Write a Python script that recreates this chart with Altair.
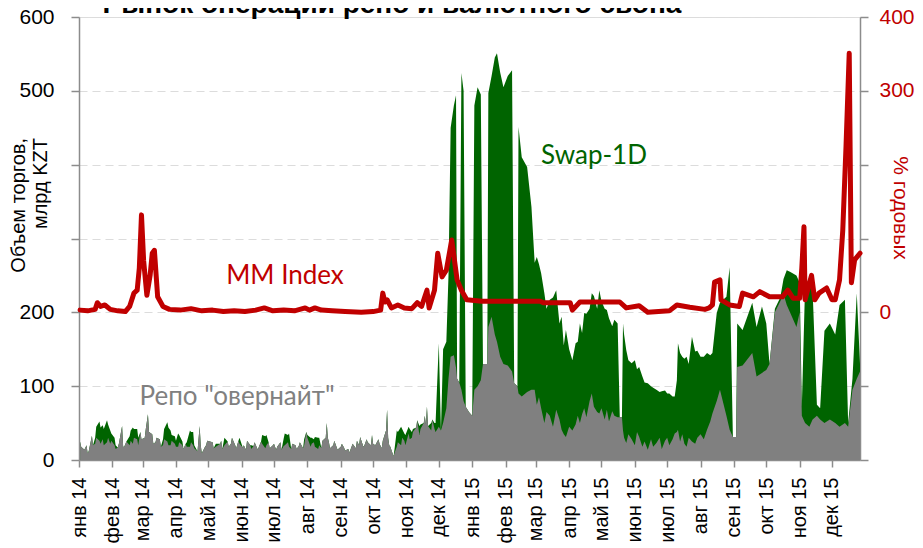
import altair as alt
import pandas as pd

# ---------------- data ----------------
vol_dates = [
    # 2014
    "2014-01-02","2014-01-03","2014-01-06","2014-01-08","2014-01-09","2014-01-10","2014-01-13","2014-01-14","2014-01-16",
    "2014-01-17","2014-01-20","2014-01-21","2014-01-23","2014-01-24","2014-01-27","2014-01-28","2014-01-30","2014-01-31",
    "2014-02-03","2014-02-04","2014-02-06","2014-02-07","2014-02-10","2014-02-11","2014-02-12","2014-02-14","2014-02-17",
    "2014-02-18","2014-02-20","2014-02-21","2014-02-24","2014-02-25","2014-02-27","2014-02-28",
    "2014-03-03","2014-03-04","2014-03-06","2014-03-07","2014-03-10","2014-03-11","2014-03-13","2014-03-14","2014-03-17",
    "2014-03-18","2014-03-20","2014-03-21","2014-03-24","2014-03-25","2014-03-27","2014-03-28","2014-03-31",
    "2014-04-01","2014-04-03","2014-04-04","2014-04-07","2014-04-08","2014-04-10","2014-04-11","2014-04-14","2014-04-15",
    "2014-04-17","2014-04-18","2014-04-21","2014-04-23","2014-04-24","2014-04-25","2014-04-28","2014-04-29","2014-04-30",
    "2014-05-05","2014-05-06","2014-05-08","2014-05-12","2014-05-13","2014-05-14","2014-05-16","2014-05-19","2014-05-20",
    "2014-05-22","2014-05-23","2014-05-26","2014-05-27","2014-05-29","2014-05-30",
    "2014-06-02","2014-06-03","2014-06-05","2014-06-06","2014-06-09","2014-06-10","2014-06-12","2014-06-13","2014-06-16",
    "2014-06-17","2014-06-19","2014-06-20","2014-06-23","2014-06-24","2014-06-26","2014-06-27","2014-06-30",
    "2014-07-01","2014-07-03","2014-07-04","2014-07-07","2014-07-08","2014-07-10","2014-07-11","2014-07-14","2014-07-15",
    "2014-07-17","2014-07-18","2014-07-21","2014-07-22","2014-07-24","2014-07-25","2014-07-28","2014-07-29","2014-07-31",
    "2014-08-01","2014-08-04","2014-08-05","2014-08-07","2014-08-08","2014-08-11","2014-08-12","2014-08-14","2014-08-15",
    "2014-08-18","2014-08-19","2014-08-20","2014-08-21","2014-08-22","2014-08-25","2014-08-26","2014-08-28","2014-08-29",
    "2014-09-01","2014-09-02","2014-09-04","2014-09-05","2014-09-08","2014-09-09","2014-09-11","2014-09-12","2014-09-15",
    "2014-09-16","2014-09-18","2014-09-19","2014-09-22","2014-09-23","2014-09-25","2014-09-26","2014-09-29","2014-09-30",
    "2014-10-01","2014-10-03","2014-10-06","2014-10-07","2014-10-09","2014-10-10","2014-10-13","2014-10-14","2014-10-15",
    "2014-10-16","2014-10-17","2014-10-20","2014-10-21","2014-10-23","2014-10-24","2014-10-27","2014-10-28","2014-10-30",
    "2014-10-31",
    "2014-11-03","2014-11-04","2014-11-06","2014-11-07","2014-11-10","2014-11-11","2014-11-13","2014-11-14","2014-11-17",
    "2014-11-18","2014-11-19","2014-11-20","2014-11-21","2014-11-24","2014-11-25","2014-11-27","2014-11-28",
    "2014-12-01","2014-12-03","2014-12-05","2014-12-08","2014-12-10","2014-12-12","2014-12-15","2014-12-17","2014-12-18",
    "2014-12-20","2014-12-22","2014-12-24","2014-12-26","2014-12-29",
    # 2015
    "2015-01-01","2015-01-03","2015-01-06","2015-01-09","2015-01-11","2015-01-15","2015-01-16","2015-01-19","2015-01-22",
    "2015-01-24","2015-01-27","2015-01-30",
    "2015-02-03","2015-02-07","2015-02-09","2015-02-12","2015-02-13","2015-02-16","2015-02-21","2015-02-25","2015-02-28",
    "2015-03-02","2015-03-04","2015-03-06","2015-03-09","2015-03-11","2015-03-14","2015-03-17","2015-03-20","2015-03-23",
    "2015-03-25","2015-03-27","2015-03-29",
    "2015-04-01","2015-04-04","2015-04-07","2015-04-09","2015-04-11","2015-04-13","2015-04-15","2015-04-17","2015-04-20",
    "2015-04-22","2015-04-24","2015-04-27","2015-04-29",
    "2015-05-01","2015-05-04","2015-05-06","2015-05-08","2015-05-11","2015-05-13","2015-05-16","2015-05-18","2015-05-20",
    "2015-05-21","2015-05-22","2015-05-24","2015-05-26","2015-05-29",
    "2015-06-01","2015-06-03","2015-06-05","2015-06-08","2015-06-10","2015-06-13","2015-06-16","2015-06-18","2015-06-21",
    "2015-06-24","2015-06-26","2015-06-29",
    "2015-07-01","2015-07-03","2015-07-06","2015-07-08","2015-07-10","2015-07-11","2015-07-13","2015-07-15","2015-07-17",
    "2015-07-19","2015-07-21","2015-07-24","2015-07-27","2015-07-29",
    "2015-08-01","2015-08-04","2015-08-07","2015-08-10","2015-08-12","2015-08-16","2015-08-19","2015-08-25","2015-08-28",
    "2015-08-31",
    "2015-09-03","2015-09-04","2015-09-09","2015-09-18","2015-09-22","2015-09-27",
    "2015-10-01","2015-10-04","2015-10-09","2015-10-14","2015-10-17","2015-10-20","2015-10-23","2015-10-29",
    "2015-11-01","2015-11-03","2015-11-06","2015-11-10","2015-11-13","2015-11-17","2015-11-20","2015-11-24","2015-11-29",
    "2015-12-04","2015-12-08","2015-12-13","2015-12-16","2015-12-20","2015-12-24","2015-12-27",
]
repo = [
    # 2014
    25,18,14,20,9,12,33,20,22,
    30,26,22,28,20,24,30,22,26,
    20,15,17,22,46,18,18,25,20,
    26,22,30,28,20,38,28,
    30,42,62,38,35,22,24,30,28,
    18,20,28,25,20,20,26,22,
    18,18,24,20,15,22,18,18,24,
    20,16,12,46,20,9,18,20,26,
    24,16,18,22,26,15,20,25,18,
    22,30,20,16,26,22,
    17,20,14,26,20,15,19,24,14,
    18,25,22,16,20,24,16,20,
    22,14,18,24,14,19,20,24,18,
    15,22,20,15,19,24,16,20,38,
    30,18,22,24,18,15,20,16,26,
    30,50,30,24,16,20,26,18,14,
    18,22,17,13,15,10,18,22,16,
    26,20,31,18,20,28,24,20,34,
    22,20,28,22,16,26,40,68,30,
    20,18,5,10,18,24,20,30,26,
    20,
    36,28,30,38,44,54,34,42,50,
    60,48,72,46,40,55,42,38,
    45,40,50,70,110,140,142,125,110,
    105,95,80,72,65,
    # 2015
    60,95,100,108,130,130,180,194,170,
    160,140,130,
    128,120,104,100,90,86,92,95,95,
    75,85,70,50,65,60,45,68,55,
    41,35,31,
    45,40,48,60,50,62,70,58,80,
    90,72,65,63,
    70,55,68,52,66,60,58,58,58,
    40,30,23,35,28,
    20,38,31,18,25,14,28,18,23,
    30,15,26,
    30,20,28,36,38,41,25,35,22,
    18,30,25,22,30,
    35,28,41,52,63,80,95,60,41,
    31,
    31,126,128,145,113,118,
    122,130,200,215,225,210,200,180,
    200,60,50,45,55,60,55,50,55,
    50,45,50,45,95,110,120,
]
swap = [
    # 2014
    0,0,0,0,0,0,0,0,8,
    15,26,22,19,22,30,18,18,10,
    10,5,0,0,0,0,0,0,12,
    14,22,12,14,10,0,0,
    0,0,0,0,0,0,0,0,0,
    0,8,14,26,24,20,8,10,
    8,18,10,5,0,0,6,22,14,
    18,4,0,0,0,0,0,0,0,
    0,0,4,0,0,0,10,0,0,
    0,0,0,0,0,8,
    0,0,0,0,0,5,0,0,0,
    0,0,12,16,14,0,0,0,
    0,0,0,0,0,10,16,10,18,
    0,0,0,0,0,0,0,8,0,
    4,12,8,4,13,15,10,0,0,
    0,0,0,0,0,0,0,0,0,
    0,0,0,0,0,0,0,0,0,
    0,0,0,0,0,0,0,0,0,
    0,0,0,0,0,0,0,0,0,
    0,0,0,6,22,14,25,12,10,
    14,
    9,14,8,4,0,0,12,6,0,
    0,0,0,0,10,0,8,12,
    113,0,100,90,140,310,338,369,0,
    0,429,420,0,0,
    # 2015
    0,385,405,387,0,0,317,326,375,
    391,385,375,
    392,408,0,0,361,324,305,248,172,
    200,180,183,176,140,157,175,162,130,
    153,120,145,
    105,95,110,100,135,110,129,140,125,
    136,150,140,167,
    145,150,135,140,115,130,127,0,0,
    145,140,126,100,103,
    115,85,95,95,80,90,72,80,72,
    62,78,68,
    60,70,58,50,70,117,120,105,115,
    122,100,142,125,118,
    105,112,104,90,82,119,118,161,220,
    0,
    0,59,48,68,67,90,
    63,0,5,5,20,47,55,70,
    40,12,185,200,175,15,15,125,130,
    120,165,167,5,15,116,10,
]

mm_dates = [
    "2014-01-02","2014-01-09","2014-01-16","2014-01-18","2014-01-21","2014-01-25","2014-01-30",
    "2014-02-06","2014-02-13","2014-02-17","2014-02-21","2014-02-24","2014-02-26","2014-02-28",
    "2014-03-02","2014-03-05","2014-03-08","2014-03-10","2014-03-12","2014-03-15","2014-03-20","2014-03-26",
    "2014-04-05","2014-04-15","2014-04-25","2014-05-05","2014-05-15","2014-05-25",
    "2014-06-04","2014-06-14","2014-06-22","2014-06-30","2014-07-10","2014-07-20","2014-07-30",
    "2014-08-03","2014-08-08","2014-08-14","2014-08-24","2014-09-05","2014-09-20",
    "2014-10-01","2014-10-08","2014-10-10","2014-10-12","2014-10-14","2014-10-18","2014-10-24","2014-10-30",
    "2014-11-06","2014-11-11","2014-11-15","2014-11-20","2014-11-22","2014-11-27","2014-11-30",
    "2014-12-04","2014-12-08","2014-12-13","2014-12-18","2014-12-22","2014-12-27",
    "2015-01-10","2015-02-01","2015-03-05","2015-03-08","2015-04-02","2015-04-04","2015-04-11",
    "2015-05-18","2015-05-24","2015-06-05","2015-06-13","2015-07-03","2015-07-10","2015-07-22",
    "2015-08-05","2015-08-09","2015-08-12","2015-08-14","2015-08-19","2015-08-20","2015-08-28",
    "2015-09-06","2015-09-09","2015-09-19","2015-09-25","2015-10-04","2015-10-16","2015-10-21","2015-10-26",
    "2015-11-01","2015-11-03","2015-11-05","2015-11-06","2015-11-12","2015-11-15","2015-11-19","2015-11-26",
    "2015-12-01","2015-12-04","2015-12-08","2015-12-11","2015-12-14","2015-12-17","2015-12-19","2015-12-22","2015-12-27",
]
mm_index = [
    3,2,4,13,8,10,4,
    2,1,8,26,30,60,132,
    70,23,50,80,84,21,8,4,
    3,5,2,3,1,2,
    1,3,6,2,3,2,6,
    3,6,3,2,1,0,
    1,3,26,14,17,6,10,6,
    5,13,8,30,6,30,80,
    48,57,98,44,30,17,
    15,15,15,13,13,3,14,
    14,6,9,0,2,10,7,
    4,6,10,41,44,17,10,
    8,26,21,28,21,21,30,19,
    19,60,116,17,50,17,26,33,
    17,17,44,111,224,351,40,71,80,
]

months_ru = ["янв", "фев", "мар", "апр", "май", "июн", "июл", "авг", "сен", "окт", "ноя", "дек"]

title_text = "Рынок операций репо и валютного свопа"

# ---------------- frames ----------------
vol = pd.DataFrame({"date": vol_dates, "repo": repo, "swap": swap})
vol["total"] = vol["repo"] + vol["swap"]
mm = pd.DataFrame({"date": mm_dates, "mm": mm_index})

GREEN = "#006400"
GRAY = "#808080"
RED = "#C00000"
AXC = "#8c8c8c"
FONT = "Liberation Sans"

W, H = 781, 443

month_arr = "[" + ",".join("'" + m + "'" for m in months_ru) + "]"
x_label_expr = month_arr + "[utcmonth(datum.value)] + ' ' + utcFormat(datum.value, '%y')"

x_enc = alt.X(
    "date:T",
    scale=alt.Scale(
        type="utc",
        domain=[alt.DateTime(year=2014, month=1, date=1, utc=True),
                alt.DateTime(year=2015, month=12, date=27, utc=True)],
        nice=False,
    ),
    axis=alt.Axis(
        title=None,
        tickCount={"interval": "month", "step": 1},
        labelExpr=x_label_expr,
        labelAngle=270,
        labelFont=FONT,
        labelFontSize=20,
        labelColor="black",
        labelPadding=10,
        labelOverlap=False,
        labelFlush=False,
        tickSize=7,
        tickColor=AXC,
        tickWidth=1.5,
        domainColor=AXC,
        domainWidth=1.5,
        grid=False,
    ),
)

left_axis = alt.Axis(
    title=None,
    values=[0, 100, 200, 300, 400, 500, 600],
    labelExpr="(datum.value == 300 || datum.value == 400) ? '' : datum.label",
    grid=True,
    gridDash=[8, 5],
    gridColor="#dcdcdc",
    gridWidth=1.2,
    labelFont=FONT,
    labelFontSize=21,
    labelColor="black",
    labelPadding=17,
    tickSize=8,
    tickColor=AXC,
    tickWidth=1.5,
    domainColor=AXC,
    domainWidth=1.5,
)
left_scale = alt.Scale(domain=[0, 600], nice=False, zero=False)

green = alt.Chart(vol).mark_area(color=GREEN, interpolate="linear").encode(
    x=x_enc,
    y=alt.Y("total:Q", scale=left_scale, axis=left_axis),
)
gray = alt.Chart(vol).mark_area(color=GRAY, interpolate="linear").encode(
    x=x_enc,
    y=alt.Y("repo:Q", scale=left_scale, axis=left_axis),
)
left_layer = alt.layer(green, gray)

right_axis = alt.Axis(
    title=None,
    orient="right",
    values=[-200, -100, 0, 100, 200, 300, 400],
    labelExpr="(datum.value == 0 || datum.value >= 300) ? datum.label : ''",
    grid=False,
    labelFont=FONT,
    labelFontSize=21,
    labelColor=RED,
    labelPadding=11,
    tickSize=8,
    tickColor=AXC,
    tickWidth=1.5,
    domainColor=AXC,
    domainWidth=1.5,
)
mm_line = alt.Chart(mm).mark_line(color=RED, strokeWidth=5, strokeJoin="round", strokeCap="round").encode(
    x=x_enc,
    y=alt.Y("mm:Q", scale=alt.Scale(domain=[-200, 400], nice=False, zero=False), axis=right_axis),
)

def label(text, x, y, color, size, font="Lato", angle=0, align="center", weight="normal", baseline="middle"):
    return alt.Chart(pd.DataFrame({"t": [0]})).mark_text(
        text=text, color=color, fontSize=size, font=font, angle=angle,
        align=align, baseline=baseline, fontWeight=weight,
    ).encode(x=alt.value(x), y=alt.value(y))

annotations = alt.layer(
    label("MM Index", 206, 259, RED, 26),
    label("Swap-1D", 515, 139, GREEN, 26),
    label("Репо \"овернайт\"", 158, 380, GRAY, 26),
    label(["Объем торгов,", "млрд KZT"], -70, 121, "black", 20, font=FONT, angle=270, align="right", baseline="top"),
    label("% годовых", 821, 191, RED, 21, font=FONT, angle=90),
    label(title_text, 313, -4, "black", 28, font=FONT, weight="bold", baseline="alphabetic"),
)

chart = alt.layer(left_layer, mm_line, annotations).resolve_scale(y="independent").properties(
    width=W,
    height=H,
    autosize=alt.AutoSizeParams(type="none"),
    padding={"left": 71, "top": 9, "right": 55, "bottom": 84},
).configure_view(stroke=None).configure(background="white")

chart.save("out.html", embed_options={"renderer": "svg", "actions": False})
